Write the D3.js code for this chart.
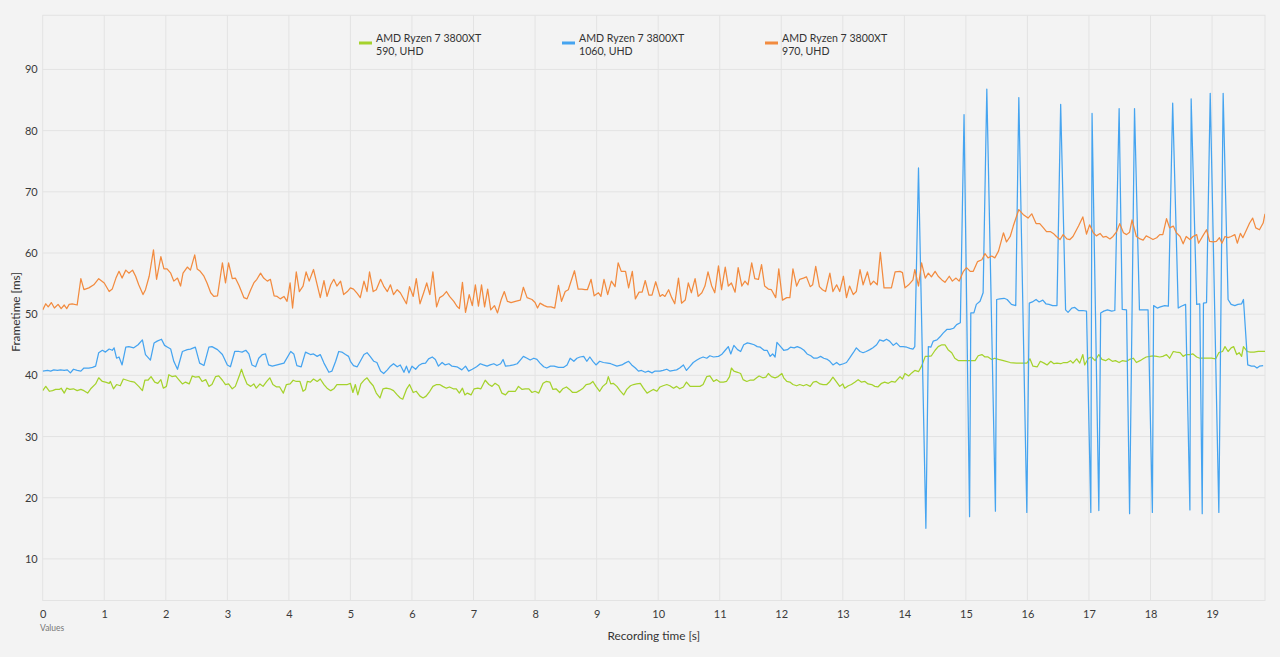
<!DOCTYPE html>
<html>
<head>
<meta charset="utf-8">
<script src="https://cdn.jsdelivr.net/npm/d3@7/dist/d3.min.js"></script>
<style>
  html, body { margin: 0; padding: 0; background: #f3f3f3; }
  svg { display: block; }
  text { font-family: "Segoe UI", Lato, "Noto Sans", sans-serif; }
</style>
</head>
<body>
<svg id="chart" width="1280" height="657"></svg>
<script>
// ---------- data ----------
const seriesTitles = ["AMD Ryzen 7 3800XT", "AMD Ryzen 7 3800XT", "AMD Ryzen 7 3800XT"];
const seriesSubtitles = ["590, UHD", "1060, UHD", "970, UHD"];
const seriesColors = ["#a5d22c", "#45a4f0", "#f28b3f"];
const xTickValues = [0,1,2,3,4,5,6,7,8,9,10,11,12,13,14,15,16,17,18,19];
const yTickValues = [10,20,30,40,50,60,70,80,90];
const xDomain = [0, 19.86];
const yDomain = [3.2, 98.85];

const greenTime = [
0,0.05,0.11,0.16,0.21,0.27,0.30,0.35,0.39,0.44, 0.50,0.56,0.62,0.67,0.73,0.78,0.86,0.91,0.97,1.02,
1.08,1.10,1.15,1.20,1.26,1.31,1.37,1.43,1.49,1.56, 1.62,1.66,1.71,1.76,1.82,1.87,1.92,1.96,2.01,2.05,
2.10,2.16,2.21,2.27,2.32,2.38,2.43,2.48,2.54,2.59, 2.65,2.70,2.75,2.81,2.86,2.92,2.97,3.02,3.08,3.13,
3.19,3.23,3.27,3.32,3.38,3.43,3.47,3.53,3.58,3.64, 3.69,3.74,3.80,3.85,3.91,3.96,4.02,4.07,4.12,4.18,
4.23,4.27,4.30,4.35,4.40,4.46,4.51,4.57,4.62,4.68, 4.73,4.78,4.84,4.89,4.95,
5.00,5.04,5.08,5.12,5.17,5.23,5.27,5.31,5.37,5.42, 5.48,5.53,5.58,5.64,5.70,5.76,5.81,5.85,5.91,5.96,
6.02,6.07,6.13,6.18,6.23,6.29,6.34,6.40,6.45,6.50, 6.56,6.61,6.67,6.72,6.77,6.82,6.86,6.90,6.96,7.01,
7.07,7.12,7.19,7.25,7.30,7.35,7.41,7.46,7.52,7.57, 7.62,7.68,7.73,7.79,7.84,7.90,7.95,8.00,8.06,8.13,
8.18,8.24,8.29,8.34,8.40,8.45,8.51,8.56,8.61,8.67, 8.72,8.78,8.83,8.89,8.94,8.99,9.05,9.10,9.16,9.19,
9.23,9.27,9.33,9.38,9.44,9.49,9.55,9.60,9.65,9.71, 9.76,9.82,9.87,9.92,9.98,
10.03,10.08,10.14,10.19,10.25,10.30,10.35,10.41,10.46,10.52, 10.57,10.63,10.68,10.73,10.79,10.84,10.90,10.95,11.00,11.06,
11.11,11.16,11.19,11.23,11.29,11.34,11.38,11.44,11.49,11.55, 11.60,11.64,11.70,11.75,11.79,11.84,11.90,11.95,12.01,12.04,
12.09,12.14,12.19,12.25,12.30,12.36,12.41,12.47,12.52,12.57, 12.63,12.68,12.74,12.79,12.84,12.90,12.95,13.00,13.03,13.09,
13.14,13.20,13.25,13.30,13.36,13.41,13.47,13.52,13.57,13.63, 13.68,13.74,13.79,13.85,
13.93,13.97,14.01,14.07,14.12,14.17,14.23,14.28,14.34,14.39, 14.44,14.50,14.55,14.61,14.66,14.71,14.77,14.82,14.88,14.96,
15.04,15.09,15.15,15.20,15.26,15.31,15.36,15.42,15.47,15.53, 15.61,15.72,15.82,15.93,15.99,16.04,16.09,16.16,16.21,16.27,
16.32,16.38,16.43,16.48,16.54,16.59,16.65,16.70,16.74,16.80, 16.85,16.90,16.93,16.99,17.04,17.10,17.16,17.21,17.27,17.32,
17.38,17.43,17.49,17.54,17.61,17.66,17.72,17.77,17.83,17.88, 17.93,17.99,18.04,18.10,18.15,18.20,18.26,18.31,18.37,18.42,
18.48,18.53,18.58,18.64,18.69,18.75,18.80,18.85,18.91,18.99, 19.06,19.11,19.17,19.21,19.26,19.31,19.35,19.40,19.44,19.48,
19.51,19.57,19.62,19.68,19.75,19.83,19.86
];
const greenMs = [
37.5,38.2,37.4,37.5,37.7,37.7,37.9,37.1,37.9,37.7, 37.8,37.5,37.7,37.5,37.1,37.8,38.6,39.6,39.0,38.9,
38.7,39.0,37.8,38.5,38.3,39.4,39.2,39.0,38.9,38.2, 37.5,39.2,39.2,39.8,38.9,38.7,39.3,37.9,38.2,40.1,
39.8,39.9,39.3,38.6,38.9,38.6,39.9,39.7,39.8,39.0, 39.3,38.2,38.5,39.8,39.9,39.2,38.5,38.6,37.8,38.2,
39.8,41.0,39.8,38.6,38.2,38.6,37.9,38.6,38.2,39.0, 39.6,38.5,38.1,38.1,37.1,38.5,38.6,39.2,39.0,39.0,
37.4,37.7,39.0,38.9,39.4,39.0,39.4,38.5,37.9,37.5, 37.8,38.5,38.5,38.5,38.5,
38.7,37.2,38.5,36.8,38.6,39.3,39.6,39.0,38.3,37.1, 36.3,37.8,37.9,37.8,37.5,36.8,36.3,36.1,37.7,38.5,
37.2,37.4,36.6,36.3,36.6,37.4,38.2,38.5,38.5,38.2, 37.9,38.1,37.8,37.8,37.1,37.9,36.8,37.1,36.8,37.8,
37.9,37.8,39.2,38.5,38.2,38.7,38.3,37.1,36.8,37.4, 37.4,37.4,38.2,37.7,37.8,37.8,37.2,37.4,37.1,38.7,
39.0,38.9,37.7,37.8,37.2,37.8,38.1,37.7,37.2,37.2, 37.5,37.9,38.5,38.6,39.0,38.2,37.4,38.2,38.7,39.8,
38.6,38.7,38.2,37.5,36.8,37.7,38.3,38.5,38.6,38.7, 37.9,37.1,37.4,37.7,37.4,
38.1,38.3,38.5,38.3,37.9,38.2,37.8,38.1,38.9,38.2, 38.2,38.2,38.2,38.5,39.8,39.9,39.0,39.3,38.9,38.9,
39.0,39.8,41.2,40.7,40.5,40.3,39.3,39.0,39.2,39.2, 39.6,39.9,39.6,39.7,40.3,39.8,39.6,39.8,40.3,39.6,
39.0,38.9,38.5,38.3,38.5,38.3,38.5,38.2,38.9,39.0, 38.6,38.5,38.5,39.0,39.7,38.9,38.2,38.6,37.9,38.3,
38.5,38.9,39.3,38.9,39.0,38.6,38.5,38.2,38.1,38.7, 38.9,38.7,39.0,38.9,
39.8,39.4,40.3,39.9,40.4,40.8,40.6,41.5,43.1,43.1, 43.2,44.1,44.7,45.0,45.0,44.2,43.7,42.8,42.4,42.4,
42.4,42.4,42.4,43.2,43.4,43.0,43.0,42.6,42.8,42.6, 42.4,42.1,42.0,42.0,42.0,42.7,41.5,41.4,42.3,42.0,
41.7,42.3,41.9,42.0,41.9,42.1,42.1,42.4,42.0,42.7, 42.0,43.4,41.7,42.8,43.0,42.4,43.4,42.6,42.4,42.7,
42.3,42.4,42.1,42.4,42.3,42.6,42.8,42.1,42.4,42.7, 43.0,43.1,43.2,43.1,43.0,43.1,43.4,42.8,43.9,43.8,
43.7,43.1,43.4,43.4,43.5,43.0,42.8,42.8,42.8,42.8, 42.7,43.7,43.9,44.7,43.9,44.5,44.7,43.4,43.7,43.1,
44.7,43.9,43.8,43.8,43.9,43.9,43.9
];

const blueTime = [
0,0.08,0.13,0.18,0.24,0.29,0.35,0.40,0.45,0.50, 0.56,0.62,0.67,0.75,0.81,0.86,0.91,0.97,1.02,1.08,
1.13,1.16,1.20,1.24,1.29,1.35,1.40,1.48,1.55,1.62, 1.67,1.75,1.81,1.86,1.93,1.98,2.03,2.08,2.13,2.19,
2.27,2.35,2.40,2.48,2.55,2.62,2.70,2.75,2.84,2.92, 3.00,3.05,3.12,3.19,3.24,3.30,3.35,3.40,3.46,3.51,
3.57,3.62,3.67,3.73,3.81,3.92,4.03,4.08,4.13,4.20, 4.27,4.35,4.40,4.46,4.51,4.57,4.65,4.70,4.76,4.81,
4.86,4.92,4.97,
5.00,5.05,5.11,5.16,5.22,5.27,5.32,5.38,5.43,5.49, 5.54,5.60,5.65,5.70,5.76,5.81,5.87,5.91,5.95,6.00,
6.06,6.11,6.16,6.22,6.27,6.33,6.38,6.43,6.49,6.54, 6.60,6.65,6.73,6.81,6.87,6.92,6.98,7.05,7.11,7.16,
7.22,7.27,7.33,7.38,7.44,7.48,7.52,7.59,7.65,7.71, 7.76,7.81,7.87,7.92,7.98,8.03,8.08,8.14,8.19,8.25,
8.31,8.38,8.46,8.52,8.57,8.63,8.68,8.73,8.79,8.84, 8.89,8.94,8.99,9.05,9.11,9.18,9.23,9.33,9.41,9.46,
9.52,9.57,9.63,9.68,9.73,9.79,9.84,9.90,9.95,
10.03,10.08,10.14,10.19,10.25,10.30,10.35,10.41,10.46,10.52, 10.57,10.63,10.68,10.73,10.79,10.84,10.90,10.98,11.03,11.09,
11.14,11.18,11.23,11.29,11.34,11.39,11.45,11.50,11.56,11.61, 11.66,11.72,11.77,11.82,11.86,11.90,11.93,11.99,12.04,12.10,
12.15,12.21,12.26,12.31,12.37,12.42,12.48,12.53,12.58,12.64, 12.69,12.75,12.79,12.84,12.90,12.95,13.01,13.06,13.11,13.17,
13.22,13.28,13.33,13.38,13.44,13.49,13.55,13.60,13.66,13.71, 13.76,13.82,13.87,
13.93,13.98,14.04,14.09,14.14,14.17,14.23,14.35,14.39,14.43, 14.47,14.53,14.58,14.63,14.69,14.74,14.80,14.85,14.91,14.97,
15.06,15.08,15.13,15.17,15.23,15.28,15.34,15.48,15.50,15.55, 15.62,15.67,15.74,15.81,15.86,15.99,16.03,16.08,16.14,16.19,
16.25,16.30,16.35,16.41,16.48,16.54,16.62,16.66,16.72,16.77, 16.83,16.90,16.96,17.03,17.05,17.16,17.19,17.24,17.30,17.37,
17.42,17.49,17.54,17.61,17.66,17.74,17.82,17.88,17.96,18.03, 18.05,18.11,18.16,18.23,18.29,18.36,18.45,18.50,18.57,18.64,
18.66,18.75,18.80,18.84,18.86,18.91,18.97,19.11,19.18,19.26, 19.31,19.37,19.42,19.48,19.51,19.58,19.64,19.69,19.73,19.77,
19.83
];
const blueMs = [
40.7,40.8,40.7,40.9,40.8,40.9,40.8,40.9,40.4,41.0, 40.8,40.7,41.2,41.2,41.3,41.5,43.7,44.1,43.8,44.3,
44.1,44.5,42.8,43.0,41.7,44.6,44.7,44.5,45.0,45.8, 43.4,42.5,45.3,45.6,45.9,44.9,44.6,44.3,42.3,41.0,
43.9,44.2,44.3,44.6,42.0,41.6,44.6,44.7,44.2,43.4, 41.7,41.4,43.9,43.9,43.8,44.1,43.5,41.7,41.4,42.8,
43.4,43.5,41.7,41.5,41.7,42.0,43.9,43.5,41.6,41.4, 43.8,43.4,43.5,43.1,43.4,42.0,40.5,40.7,42.3,43.9,
43.8,43.4,43.1,
42.3,41.6,41.4,42.3,43.4,43.7,43.1,42.3,42.1,40.7, 40.3,40.9,41.5,41.9,41.4,41.7,40.5,41.5,40.4,41.5,
41.0,41.6,41.9,42.0,42.7,43.0,42.6,41.5,42.1,41.7, 41.9,41.5,41.4,40.9,41.5,40.7,41.0,41.4,41.9,41.7,
41.5,41.7,41.9,41.6,41.9,42.6,41.5,41.6,41.7,41.9, 42.5,43.1,42.8,42.5,42.8,42.6,42.0,41.4,41.2,41.5,
41.5,41.3,41.3,41.7,42.8,42.3,42.8,43.0,43.1,42.3, 43.0,42.3,41.7,42.3,42.1,42.0,41.9,41.5,41.7,42.0,
42.3,41.7,41.2,40.7,40.8,40.5,40.7,40.4,40.7,
40.7,40.8,41.0,40.7,40.8,40.9,41.2,41.7,40.8,41.5, 42.1,42.5,42.8,43.0,42.8,43.2,43.0,43.1,43.4,44.1,
44.7,43.5,44.9,44.2,43.9,45.0,45.3,45.2,45.0,44.7, 44.6,44.1,44.1,43.1,43.5,43.0,45.4,44.7,44.1,44.2,
44.6,44.5,44.7,44.5,44.1,43.5,43.2,42.8,42.8,43.1, 42.8,42.6,42.3,41.7,42.1,41.7,41.9,42.1,42.8,43.7,
44.5,43.9,43.7,43.9,44.2,44.5,45.0,45.8,45.6,45.9, 45.6,44.9,45.3,
44.7,44.7,44.6,44.4,44.3,44.7,73.9,15.0,44.7,44.6, 45.6,45.8,46.3,46.9,47.5,47.5,47.7,48.3,48.6,82.6,
16.9,50.2,50.2,51.6,52.1,53.5,86.8,17.8,52.4,52.5, 52.6,52.4,51.6,51.4,85.4,17.6,51.8,52.0,52.4,52.0,
52.3,51.7,51.6,51.4,51.4,84.3,50.7,50.3,51.0,51.1, 50.6,50.6,50.5,17.6,82.8,17.9,50.2,50.5,50.7,50.5,
50.6,83.6,50.8,50.7,17.4,83.6,50.7,50.7,50.7,17.6, 51.4,51.0,51.2,51.4,51.3,84.5,51.0,51.3,51.6,18.0,
85.2,51.6,51.7,17.4,51.8,51.9,86.1,17.6,86.1,52.4, 51.6,51.4,51.6,51.7,52.4,41.7,41.5,41.5,41.2,41.5,
41.6
];

const orangeTime = [
0,0.05,0.09,0.14,0.19,0.25,0.30,0.35,0.39,0.43, 0.48,0.56,0.62,0.67,0.75,0.83,0.91,1.00,1.08,1.13,
1.19,1.24,1.29,1.35,1.40,1.46,1.51,1.56,1.63,1.67, 1.73,1.80,1.85,1.92,1.97,2.02,2.08,2.13,2.19,2.24,
2.28,2.35,2.40,2.47,2.51,2.56,2.62,2.67,2.73,2.78, 2.84,2.92,2.97,3.02,3.08,3.13,3.19,3.27,3.32,3.38,
3.43,3.48,3.54,3.59,3.65,3.70,3.76,3.81,3.86,3.92, 3.97,4.02,4.06,4.12,4.17,4.23,4.28,4.33,4.40,4.46,
4.51,4.57,4.62,4.68,4.73,4.78,4.84,4.89,4.95,
5.00,5.05,5.11,5.16,5.22,5.27,5.31,5.37,5.42,5.49, 5.54,5.60,5.65,5.70,5.76,5.81,5.91,5.96,6.02,6.07,
6.13,6.19,6.24,6.29,6.34,6.40,6.45,6.50,6.56,6.61, 6.68,6.73,6.77,6.82,6.87,6.93,6.98,7.03,7.08,7.13,
7.18,7.23,7.28,7.34,7.39,7.45,7.50,7.55,7.61,7.68, 7.76,7.81,7.87,7.95,8.00,8.04,8.08,8.15,8.20,8.26,
8.32,8.38,8.43,8.49,8.54,8.64,8.70,8.76,8.81,8.85, 8.91,8.96,9.03,9.07,9.12,9.18,9.24,9.30,9.35,9.40,
9.47,9.52,9.58,9.63,9.69,9.74,9.79,9.85,9.90,9.96,
10.03,10.07,10.11,10.17,10.22,10.27,10.33,10.38,10.44,10.49, 10.54,10.60,10.65,10.71,10.76,10.81,10.87,10.92,10.98,11.03,
11.09,11.14,11.19,11.25,11.30,11.36,11.41,11.46,11.52,11.57, 11.63,11.68,11.73,11.79,11.84,11.91,11.96,12.02,12.09,12.14,
12.19,12.25,12.30,12.36,12.41,12.47,12.51,12.56,12.62,12.67, 12.72,12.79,12.84,12.90,12.95,13.01,13.06,13.11,13.17,13.22,
13.28,13.33,13.40,13.45,13.50,13.56,13.61,13.67,13.72,13.79, 13.85,
13.93,13.97,14.01,14.07,14.14,14.17,14.23,14.28,14.34,14.39, 14.44,14.50,14.55,14.61,14.66,14.73,14.78,14.84,14.89,14.96,
15.01,15.07,15.12,15.19,15.26,15.31,15.36,15.42,15.47,15.53, 15.61,15.66,15.72,15.77,15.86,15.93,16.01,16.07,16.14,16.20,
16.26,16.31,16.37,16.42,16.47,16.53,16.58,16.64,16.69,16.74, 16.83,16.90,16.96,17.01,17.07,17.12,17.18,17.23,17.28,17.34,
17.39,17.45,17.50,17.56,17.61,17.66,17.70,17.77,17.83,17.88, 17.93,17.99,18.04,18.10,18.15,18.20,18.26,18.31,18.37,18.42,
18.48,18.53,18.58,18.64,18.69,18.75,18.78,18.85,18.91,18.96, 19.02,19.07,19.12,19.16,19.21,19.26,19.31,19.37,19.41,19.46,
19.50,19.56,19.61,19.66,19.71,19.77,19.83,19.86
];
const orangeMs = [
50.7,51.7,51.2,51.9,51.0,51.6,50.9,51.5,50.9,51.6, 51.7,51.5,55.8,54.0,54.3,54.8,55.8,55.1,53.7,54.1,
55.9,57.0,55.9,57.2,56.7,57.2,56.2,54.8,53.2,54.0, 56.2,60.5,55.7,59.4,57.4,57.4,56.7,55.4,55.9,54.6,
56.7,57.7,57.2,59.7,57.4,57.0,56.2,55.1,53.5,52.9, 53.0,58.4,55.1,58.4,55.8,55.9,54.7,52.7,52.5,54.0,
55.1,55.7,56.7,55.9,55.4,55.7,53.0,52.9,52.5,52.9, 52.1,55.1,51.0,56.9,53.7,54.6,56.9,55.4,57.3,54.8,
52.7,55.5,52.9,54.8,55.7,54.6,55.4,53.2,53.7,
54.3,54.1,53.4,52.7,55.4,53.7,56.9,53.7,54.0,55.7, 54.6,53.7,54.8,53.2,54.0,53.5,51.7,54.5,52.9,55.8,
51.7,53.5,55.1,53.2,56.9,51.2,52.7,53.0,53.7,52.9, 52.1,51.3,50.9,55.2,50.3,53.2,51.4,54.8,51.3,54.8,
51.2,54.1,50.7,51.4,50.2,52.4,53.7,52.1,51.9,52.1, 52.3,54.4,52.7,52.4,51.9,51.0,51.8,51.4,51.2,51.2,
51.0,54.7,52.1,53.7,54.0,57.1,54.1,54.1,54.0,54.0, 55.7,53.0,53.5,52.9,55.7,53.2,55.4,54.5,58.4,57.0,
57.0,54.3,57.0,52.5,53.6,53.6,55.5,53.1,53.1,55.3,
52.9,53.2,52.9,54.0,52.7,51.7,55.9,51.8,52.3,55.1, 53.5,55.8,52.9,53.5,54.6,56.9,54.6,53.5,57.9,54.0,
57.7,54.6,55.1,53.6,57.6,54.6,55.4,54.8,58.4,55.8, 55.7,58.1,54.6,54.1,54.0,52.7,57.4,52.3,52.7,52.7,
57.4,54.6,55.7,55.9,56.1,54.5,54.8,57.8,54.5,54.0, 53.7,56.7,53.7,54.8,53.7,56.2,52.7,54.6,53.2,53.7,
57.3,54.8,56.9,54.8,55.4,54.8,60.1,54.3,54.3,54.3, 56.9,
57.0,56.8,54.3,54.8,55.6,57.3,54.6,58.4,55.9,56.7, 56.1,57.0,56.2,55.6,55.2,56.2,55.4,55.9,55.4,57.0,
57.6,57.0,57.0,58.6,58.9,59.9,59.2,59.5,59.2,60.3, 63.3,61.8,62.7,64.4,67.1,66.3,65.7,66.4,64.8,64.8,
64.1,63.5,63.5,63.2,62.7,62.2,63.0,62.3,62.2,62.7, 64.4,65.9,63.1,64.6,63.3,62.8,63.2,62.6,62.7,62.3,
62.7,63.5,64.8,63.3,63.0,63.4,65.4,62.7,62.3,62.1, 62.8,62.5,62.2,62.5,63.0,63.0,65.6,64.1,64.4,63.3,
62.7,61.5,62.7,62.2,62.7,63.0,61.6,62.8,63.8,61.9, 61.8,61.9,62.5,61.6,62.7,62.5,62.7,63.0,61.6,63.2,
62.5,63.8,64.9,65.7,64.1,63.8,64.9,66.4
];

// ---------- chart ----------
const svg = d3.select("#chart");
const W = 1280, H = 657;
const plot = { left: 42.7, right: 1265, top: 15.3, bottom: 600.5 };
const fontFamily = "'Segoe UI', Lato, 'Noto Sans', sans-serif";

svg.append("rect").attr("width", W).attr("height", H).attr("fill", "#f3f3f3");

const x = d3.scaleLinear().domain(xDomain).range([plot.left, plot.right]);
const y = d3.scaleLinear().domain(yDomain).range([plot.bottom, plot.top]);

const gridColor = "#e3e3e3";

// vertical grid
svg.append("g").selectAll("line").data(xTickValues.filter(d => d > 0)).join("line")
  .attr("x1", d => x(d)).attr("x2", d => x(d))
  .attr("y1", plot.top).attr("y2", plot.bottom)
  .attr("stroke", gridColor).attr("stroke-width", 1);

// horizontal grid
svg.append("g").selectAll("line").data(yTickValues).join("line")
  .attr("x1", plot.left).attr("x2", plot.right)
  .attr("y1", d => y(d)).attr("y2", d => y(d))
  .attr("stroke", gridColor).attr("stroke-width", 1);

// plot frame
svg.append("rect")
  .attr("x", plot.left).attr("y", plot.top)
  .attr("width", plot.right - plot.left).attr("height", plot.bottom - plot.top)
  .attr("fill", "none").attr("stroke", gridColor).attr("stroke-width", 1);

// axes (labels via d3 axis)
const xAxis = d3.axisBottom(x).tickValues(xTickValues).tickSize(0).tickPadding(10).tickFormat(d3.format("d"));
const gx = svg.append("g").attr("transform", `translate(0,${plot.bottom})`).call(xAxis);
gx.select(".domain").remove();
gx.selectAll("text").attr("font-size", 11).attr("fill", "#3a3a3a").attr("font-family", fontFamily);

const yAxis = d3.axisLeft(y).tickValues(yTickValues).tickSize(0).tickPadding(5).tickFormat(d3.format("d"));
const gy = svg.append("g").attr("transform", `translate(${plot.left},0)`).call(yAxis);
gy.select(".domain").remove();
gy.selectAll("text").attr("font-size", 11).attr("fill", "#3a3a3a").attr("font-family", fontFamily);

// axis titles
svg.append("text").attr("x", (plot.left + plot.right) / 2).attr("y", 640)
  .attr("text-anchor", "middle").attr("font-size", 11.8).attr("fill", "#333")
  .attr("font-family", fontFamily).text("Recording time [s]");
svg.append("text").attr("transform", `translate(20,${(plot.top + plot.bottom) / 2 + 4}) rotate(-90)`)
  .attr("text-anchor", "middle").attr("font-size", 11.8).attr("fill", "#333")
  .attr("font-family", fontFamily).text("Frametime [ms]");
svg.append("text").attr("x", 40).attr("y", 631)
  .attr("font-size", 8.5).attr("fill", "#777").attr("font-family", fontFamily).text("Values");

// lines
const series = [
  { t: greenTime, v: greenMs, color: seriesColors[0] },
  { t: blueTime, v: blueMs, color: seriesColors[1] },
  { t: orangeTime, v: orangeMs, color: seriesColors[2] }
];
const line = d3.line().x(d => x(d[0])).y(d => y(d[1]));
svg.append("clipPath").attr("id", "clip").append("rect")
  .attr("x", plot.left).attr("y", plot.top)
  .attr("width", plot.right - plot.left).attr("height", plot.bottom - plot.top);
const gl = svg.append("g").attr("clip-path", "url(#clip)");
series.forEach(s => {
  const pts = d3.zip(s.t, s.v);
  gl.append("path").datum(pts)
    .attr("fill", "none").attr("stroke", s.color)
    .attr("stroke-width", 1.25).attr("stroke-linejoin", "round")
    .attr("d", line);
});

// legend
const legendX = [359, 562, 765];
const lg = svg.append("g");
seriesTitles.forEach((t, i) => {
  const g = lg.append("g").attr("transform", `translate(${legendX[i]},0)`);
  g.append("rect").attr("x", 0).attr("y", 41.5).attr("width", 13).attr("height", 3).attr("fill", seriesColors[i]);
  g.append("text").attr("x", 17).attr("y", 42).attr("font-size", 10.6).attr("fill", "#333")
    .attr("font-family", fontFamily).text(t);
  g.append("text").attr("x", 17).attr("y", 55).attr("font-size", 10.6).attr("fill", "#333")
    .attr("font-family", fontFamily).text(seriesSubtitles[i]);
});
</script>
</body>
</html>
